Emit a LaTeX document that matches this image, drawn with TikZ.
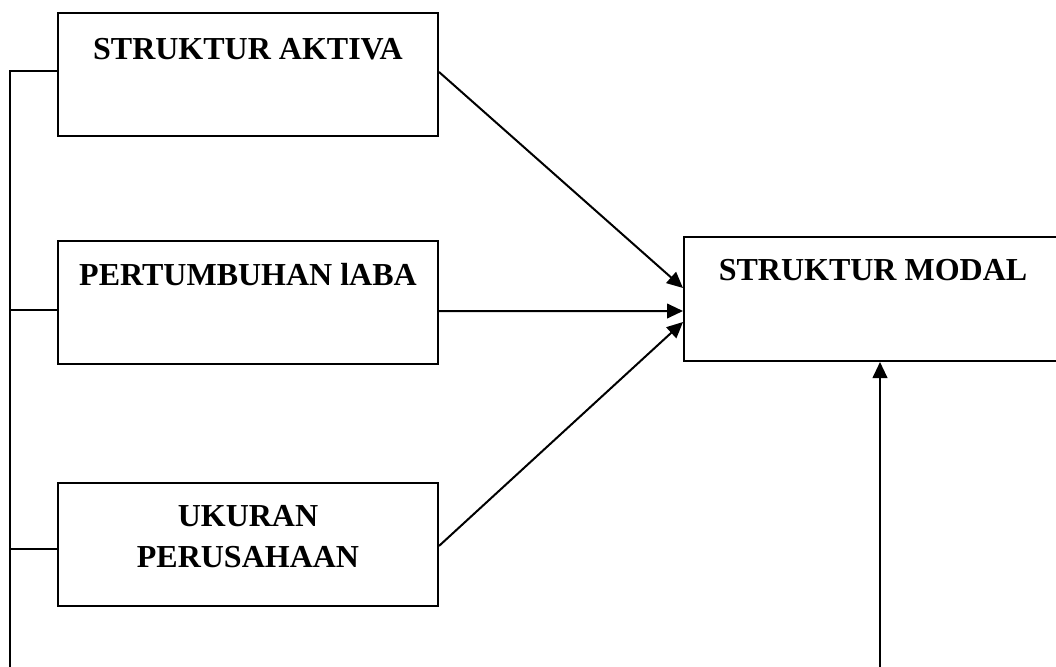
\documentclass[tikz,border=0pt]{standalone}
\usepackage{fontspec}
\setmainfont{Liberation Serif}
\usetikzlibrary{arrows.meta}
\begin{document}
\begin{tikzpicture}[x=0.75pt,y=-0.75pt,
  box/.style={draw, line width=1.5pt, rectangle, inner sep=0pt, minimum width=285pt, minimum height=92.25pt},
  lbl/.style={font=\fontsize{24}{28}\selectfont\bfseries, inner sep=0pt, anchor=base},
  conn/.style={line width=1.5pt},
  arr/.style={conn, -{Triangle[length=12pt,width=11pt]}}]
\useasboundingbox (0,0) rectangle (1056,667);
\clip (0,0) rectangle (1056,667);
\node[box] (b1) at (248,74.5) {};
\node[lbl] (t1) at (248,60) {STRUKTUR AKTIVA};
\node[box] (b2) at (248,302.5) {};
\node[lbl] (t2) at (248,285) {PERTUMBUHAN lABA};
\node[box] (b3) at (248,544.5) {};
\node[lbl] (t3a) at (248,526) {UKURAN};
\node[lbl] (t3b) at (248,567) {PERUSAHAAN};
\node[box, minimum width=283.5pt, minimum height=93pt] (b4) at (873,299) {};
\node[lbl] (t4) at (873,280) {STRUKTUR MODAL};
% spine
\coordinate (s1) at (10,71);
\coordinate (s2) at (10,310);
\coordinate (s3) at (10,549);
\coordinate (sb) at (10,668);
\draw[conn] (sb) -- (s1) -- (b1.west |- s1);
\draw[conn] (s2) -- (b2.west |- s2);
\draw[conn] (s3) -- (b3.west |- s3);
% arrows
\draw[arr] ([yshift=1.9pt]b1.east) -- ([yshift=8.25pt]b4.west);
\draw[arr] ([yshift=-6.4pt]b2.east) -- ([yshift=-9pt]b4.west);
\draw[arr] ([yshift=-1.1pt]b3.east) -- ([yshift=-17.25pt]b4.west);
\coordinate (vb) at (880,668);
\draw[arr] (vb) -- (vb |- b4.south);
\end{tikzpicture}
\end{document}
